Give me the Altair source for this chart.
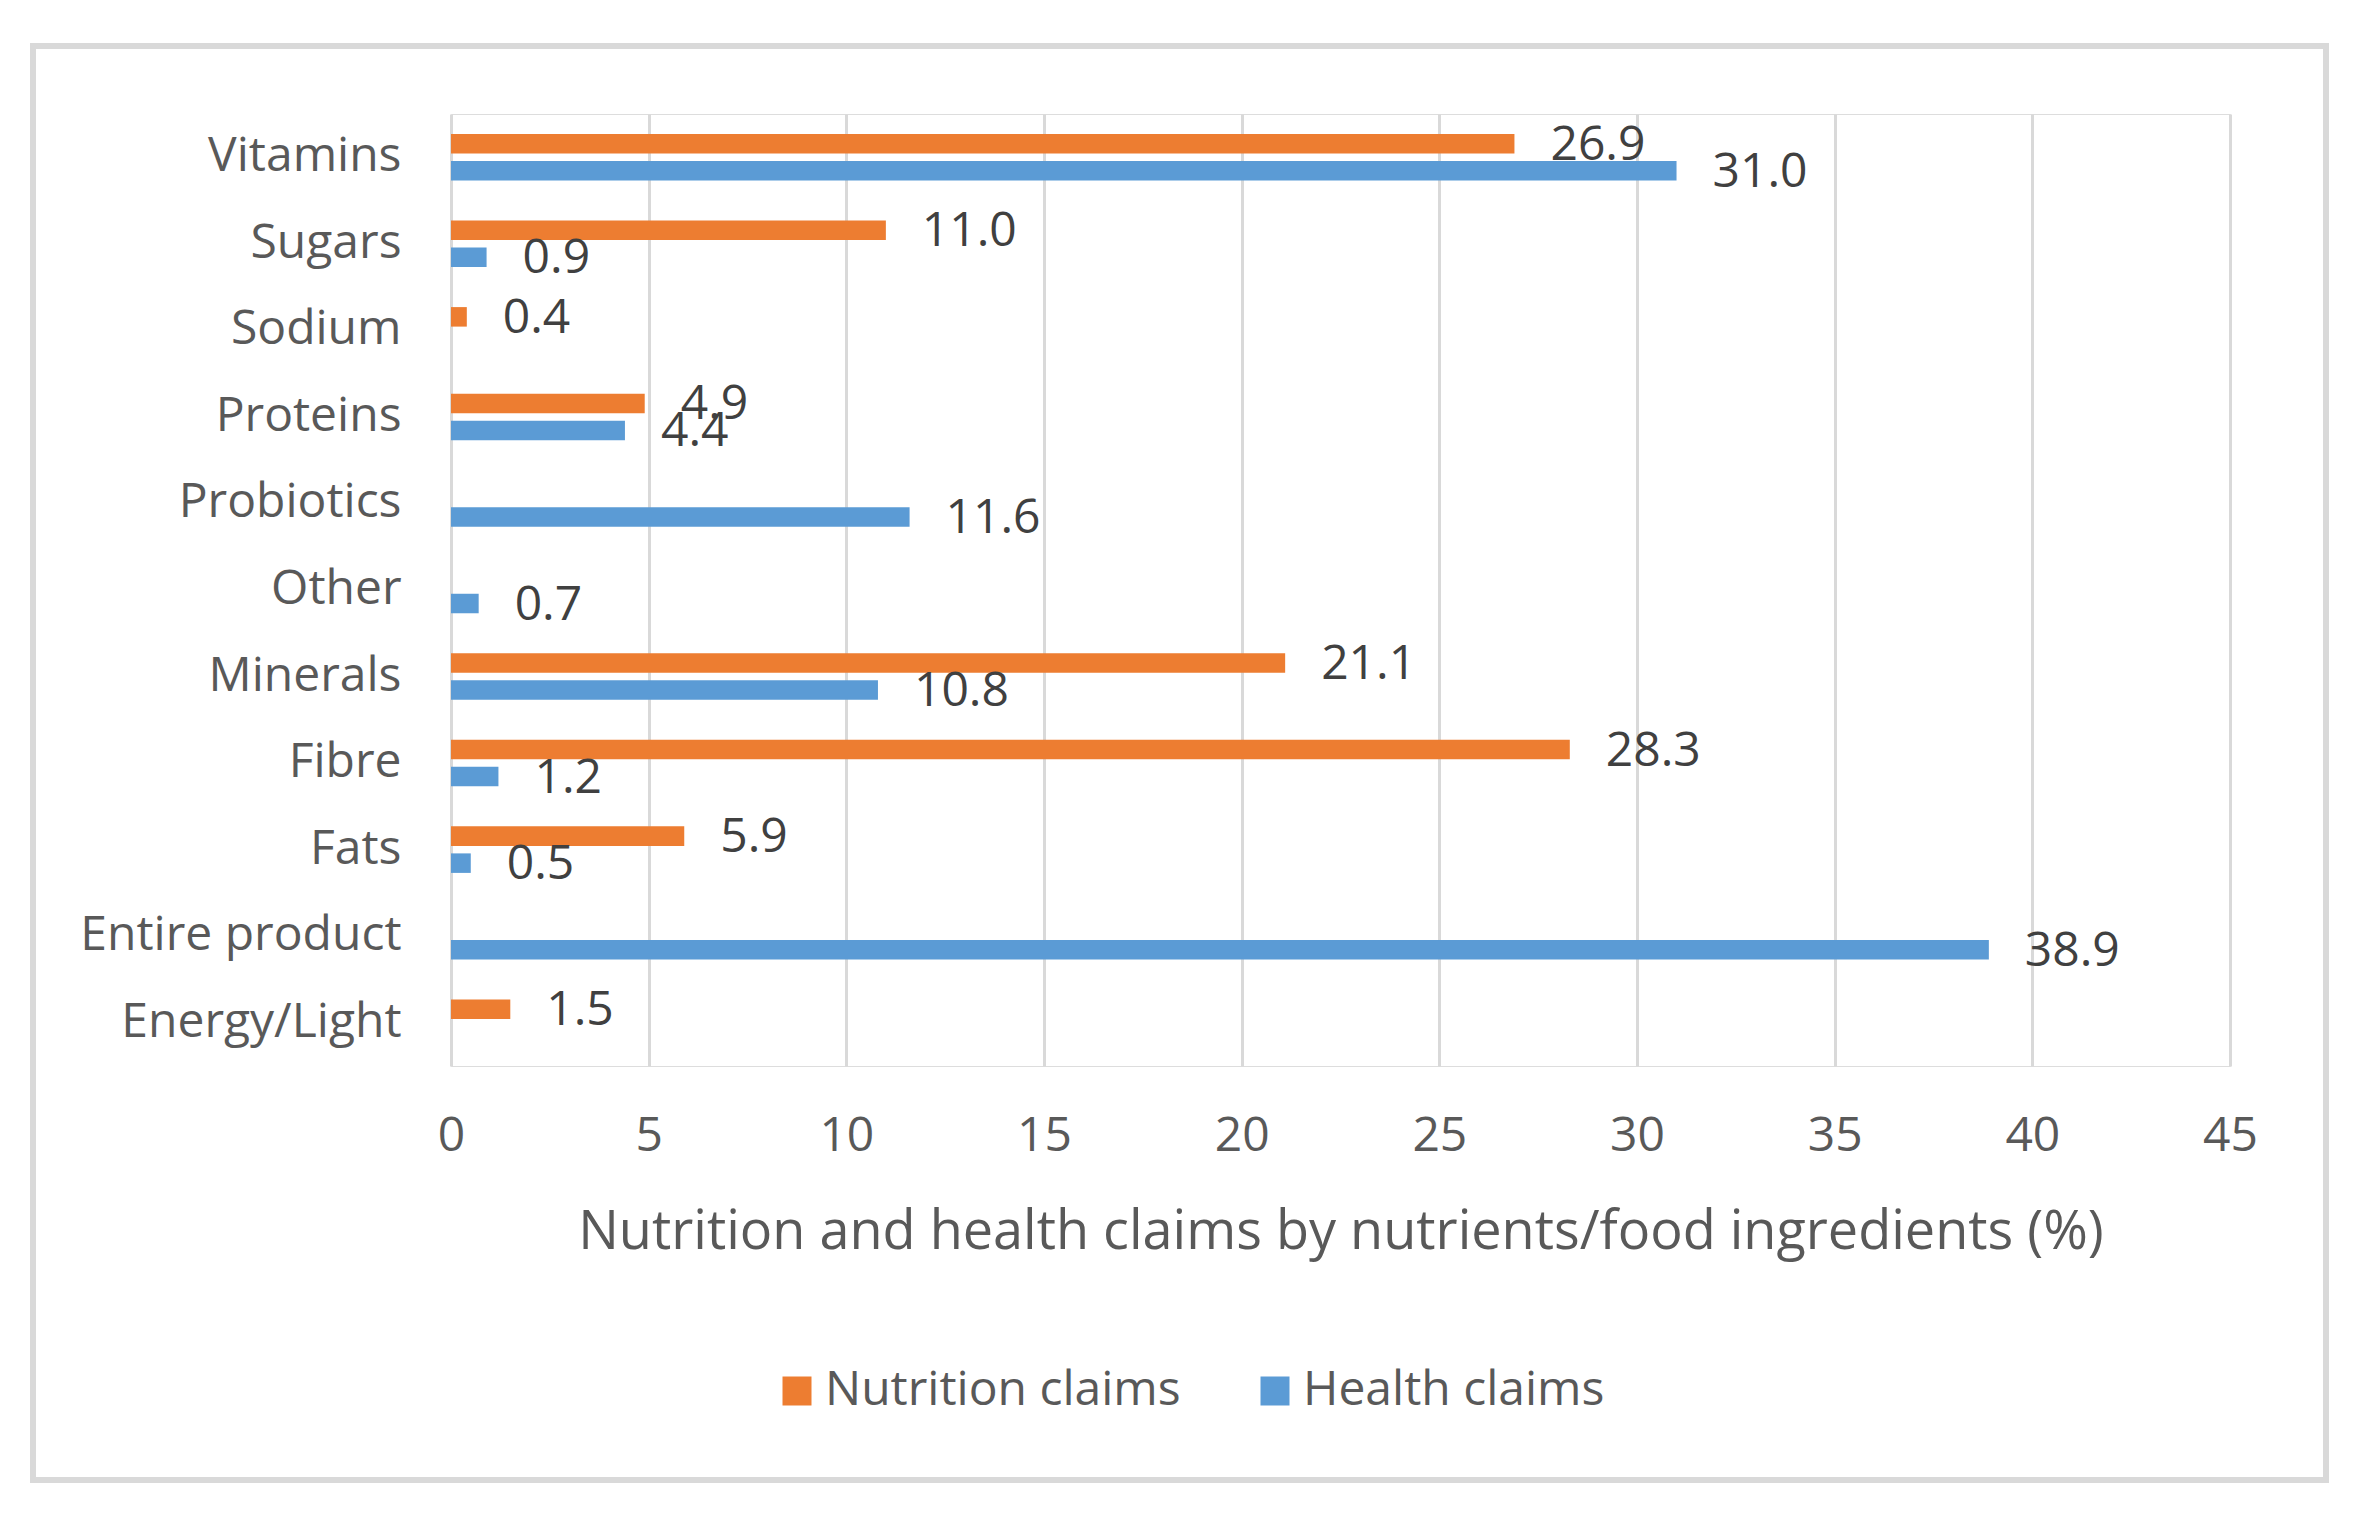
import altair as alt
import pandas as pd

categories = ["Vitamins", "Sugars", "Sodium", "Proteins", "Probiotics", "Other",
              "Minerals", "Fibre", "Fats", "Entire product", "Energy/Light"]
nutrition_claims = [26.9, 11.0, 0.4, 4.9, None, None, 21.1, 28.3, 5.9, None, 1.5]
health_claims = [31.0, 0.9, None, 4.4, 11.6, 0.7, 10.8, 1.2, 0.5, 38.9, None]
series = ["Nutrition claims", "Health claims"]
colors = ["#ED7D31", "#5B9BD5"]
x_ticks = [0, 5, 10, 15, 20, 25, 30, 35, 40, 45]

rows = []
for cat, n, h in zip(categories, nutrition_claims, health_claims):
    if n is not None:
        rows.append({"category": cat, "series": series[0], "value": n})
    if h is not None:
        rows.append({"category": cat, "series": series[1], "value": h})
df = pd.DataFrame(rows)

FONT = "Open Sans"
W, H = 1779, 952

y_enc = alt.Y("category:N", sort=categories, title=None,
              scale=alt.Scale(paddingInner=0.4624, paddingOuter=0.2312),
              axis=alt.Axis(labelFontSize=48, labelColor="#595959", labelPadding=50,
                            labelLimit=0, domain=False, ticks=False, grid=False,
                            labelFont=FONT))
yoff_enc = alt.YOffset("series:N", sort=series,
                       scale=alt.Scale(domain=series, paddingInner=0.278, paddingOuter=0))
x_enc = alt.X("value:Q", title="Nutrition and health claims by nutrients/food ingredients (%)",
              scale=alt.Scale(domain=[0, 45], nice=False),
              axis=alt.Axis(values=x_ticks, labelFontSize=48, labelColor="#595959",
                            labelPadding=46, labelFlush=False, ticks=False, domain=False,
                            grid=True, gridColor="#d9d9d9", gridWidth=3, titleFontSize=54,
                            titleColor="#595959", titleFontWeight="normal",
                            titlePadding=45, titleLimit=0, labelFont=FONT, titleFont=FONT))

base = alt.Chart(df)

bars = base.mark_bar().encode(
    y=y_enc,
    yOffset=yoff_enc,
    x=x_enc,
    color=alt.Color("series:N", sort=series,
                    scale=alt.Scale(domain=series, range=colors),
                    legend=alt.Legend(title=None, orient="none", direction="horizontal",
                                      legendX=322, legendY=1253, symbolType="square",
                                      symbolSize=841, symbolStrokeWidth=0,
                                      labelFontSize=48, labelColor="#595959",
                                      labelOffset=4, labelLimit=0, columnPadding=70,
                                      padding=0, labelFont=FONT)),
)

labels = base.mark_text(align="left", baseline="middle", dx=36, dy=2,
                        fontSize=48, color="#404040", font=FONT).encode(
    y=alt.Y("category:N", sort=categories),
    yOffset=alt.YOffset("series:N", sort=series),
    x=alt.X("value:Q"),
    text=alt.Text("value:Q", format=".1f"),
)

frame = alt.Chart(pd.DataFrame({"k": [0]})).mark_rect(
    fillOpacity=0, stroke="#d9d9d9", strokeWidth=6
).encode(x=alt.value(-418), x2=alt.value(1875), y=alt.value(-68), y2=alt.value(1366))

chart = alt.layer(bars, labels, frame).properties(
    width=W, height=H,
    autosize=alt.AutoSizeParams(type="none"),
    padding={"left": 443, "top": 106, "right": 110, "bottom": 425},
    background="white",
).configure_view(stroke=None).configure(font=FONT)

chart.save("out.html", embed_options={"renderer": "svg", "actions": False})
